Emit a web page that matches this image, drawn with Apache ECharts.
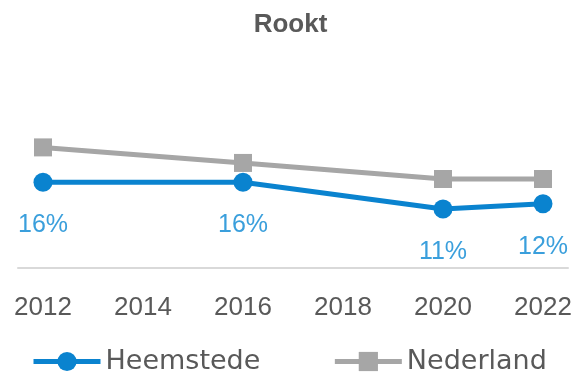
<!DOCTYPE html>
<html>
<head>
<meta charset="utf-8">
<script src="https://cdn.jsdelivr.net/npm/echarts@6/dist/echarts.min.js"></script>
<style>
  html, body { margin: 0; padding: 0; background: #ffffff; }
  #chart { width: 581px; height: 373px; }
</style>
</head>
<body>
<div id="chart"></div>
<script>
// Share of adults who smoke, Heemstede vs. the Netherlands
const years = [2012, 2016, 2020, 2022];
const heemstede = [16, 16, 11, 12];
const nederland = [22.5, 19.6, 16.6, 16.6];
const tickYears = [2012, 2014, 2016, 2018, 2020, 2022];

const FONT = "'Liberation Sans', 'DejaVu Sans', sans-serif";
const WIDE = "'DejaVu Sans', sans-serif";
const BLUE = '#0a83cf';
const GREY = '#a6a6a6';

const pairs = (xs, ys) => xs.map((x, i) => [x, ys[i]]);

const chart = echarts.init(document.getElementById('chart'), null, { renderer: 'canvas' });
chart.setOption({
  animation: false,
  title: {
    text: 'Rookt',
    left: 'center',
    top: 7,
    textStyle: { fontFamily: FONT, fontSize: 26, fontWeight: 'bold', color: '#595959' }
  },
  legend: {
    left: 26,
    top: 343,
    itemWidth: 67,
    itemHeight: 24,
    itemGap: 72,
    lineStyle: { width: 5 },
    textStyle: { fontFamily: WIDE, fontSize: 27, color: '#595959' },
    data: ['Heemstede', 'Nederland']
  },
  grid: { left: 18, right: 13, top: 134, bottom: 105 },
  xAxis: {
    type: 'value',
    min: 2011.5,
    max: 2022.5,
    axisLine: { show: true, lineStyle: { color: '#d9d9d9', width: 2 } },
    axisTick: { show: false },
    splitLine: { show: false },
    axisLabel: {
      customValues: tickYears,
      margin: 27,
      fontFamily: FONT,
      fontSize: 26,
      color: '#595959',
      formatter: v => String(v)
    }
  },
  yAxis: {
    type: 'value',
    min: 0,
    max: 25,
    show: false,
    splitLine: { show: false }
  },
  series: [
    {
      name: 'Nederland',
      type: 'line',
      data: pairs(years, nederland),
      symbol: 'rect',
      symbolSize: 18,
      lineStyle: { color: GREY, width: 5 },
      itemStyle: { color: GREY },
      z: 2
    },
    {
      name: 'Heemstede',
      type: 'line',
      data: pairs(years, heemstede),
      symbol: 'circle',
      symbolSize: 19,
      lineStyle: { color: BLUE, width: 5 },
      itemStyle: { color: BLUE },
      label: {
        show: true,
        position: 'bottom',
        distance: 21,
        fontFamily: FONT,
        fontSize: 25,
        color: '#3a9fdc',
        formatter: p => p.value[1] + '%'
      },
      z: 3
    }
  ]
});
</script>
</body>
</html>
